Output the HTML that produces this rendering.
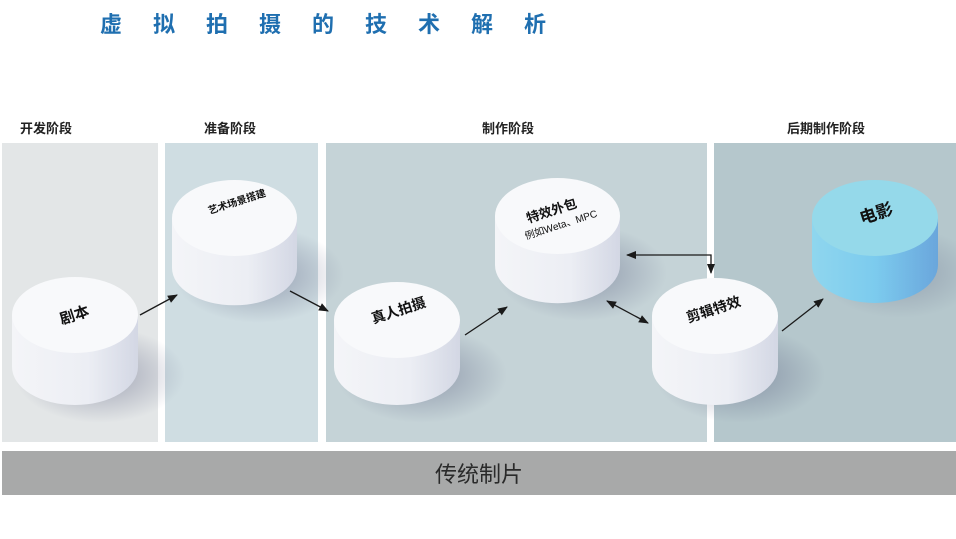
<!DOCTYPE html>
<html><head><meta charset="utf-8"><style>
body{margin:0;width:956px;height:534px;background:#fff;overflow:hidden;font-family:"Liberation Sans","Noto Sans CJK SC",sans-serif}
</style></head><body>
<svg width="956" height="534" viewBox="0 0 956 534" xmlns="http://www.w3.org/2000/svg" font-family="Liberation Sans, Noto Sans CJK SC, sans-serif">
<defs>
<linearGradient id="w" x1="0" x2="1"><stop offset="0" stop-color="#f4f5f8"/><stop offset="0.6" stop-color="#eceef4"/><stop offset="1" stop-color="#d3d7e4"/></linearGradient>
<linearGradient id="b" x1="0" x2="1"><stop offset="0" stop-color="#8fd6ee"/><stop offset="0.5" stop-color="#7ccbee"/><stop offset="1" stop-color="#6aa6dc"/></linearGradient>
<radialGradient id="sh"><stop offset="0" stop-color="#5a5f80" stop-opacity="0.5"/><stop offset="1" stop-color="#5a5f80" stop-opacity="0"/></radialGradient>
<marker id="a" markerWidth="10" markerHeight="10" refX="9" refY="5" orient="auto-start-reverse" markerUnits="userSpaceOnUse"><path d="M0,1 L10,5 L0,9 z" fill="#1a1a1a"/></marker>
</defs>
<text x="100" y="32" font-size="22" font-weight="bold" fill="#1f6fb0" letter-spacing="31">虚拟拍摄的技术解析</text>
<g font-size="13" font-weight="bold" fill="#222">
<text x="20" y="133">开发阶段</text><text x="204" y="133">准备阶段</text><text x="482" y="133">制作阶段</text><text x="787" y="133">后期制作阶段</text></g>
<rect x="2" y="143" width="156" height="299" fill="#e3e6e7"/>
<rect x="165" y="143" width="153" height="299" fill="#cfdde2"/>
<rect x="326" y="143" width="381" height="299" fill="#c5d3d7"/>
<rect x="714" y="143" width="242" height="299" fill="#b5c7cc"/>
<rect x="2" y="451" width="954" height="44" fill="#a8a9a9"/>
<text x="479" y="482" font-size="22" text-anchor="middle" fill="#2a2a2a">传统制片</text>
<g>
<ellipse cx="100" cy="375" rx="85" ry="48" fill="url(#sh)"/>
<ellipse cx="259" cy="275" rx="85" ry="48" fill="url(#sh)"/>
<ellipse cx="422" cy="375" rx="85" ry="48" fill="url(#sh)"/>
<ellipse cx="582" cy="273" rx="85" ry="48" fill="url(#sh)"/>
<ellipse cx="740" cy="375" rx="85" ry="48" fill="url(#sh)"/>
<ellipse cx="900" cy="273" rx="80" ry="45" fill="url(#sh)" opacity="0.7"/>
</g>
<g>
<path d="M12,315 v52 a63,38 0 0 0 126,0 v-52z" fill="url(#w)"/><ellipse cx="75" cy="315" rx="63" ry="38" fill="#f8f9fb"/>
<path d="M172,218 v50 a62,37 0 0 0 125,0 v-50z" fill="url(#w)"/><ellipse cx="234.5" cy="218" rx="62.5" ry="38" fill="#f8f9fb"/>
<path d="M334,320 v47 a63,38 0 0 0 126,0 v-47z" fill="url(#w)"/><ellipse cx="397" cy="320" rx="63" ry="38" fill="#f8f9fb"/>
<path d="M495,216 v49 a62,38 0 0 0 125,0 v-49z" fill="url(#w)"/><ellipse cx="557.5" cy="216" rx="62.5" ry="38" fill="#f8f9fb"/>
<path d="M652,316 v51 a63,38 0 0 0 126,0 v-51z" fill="url(#w)"/><ellipse cx="715" cy="316" rx="63" ry="38" fill="#f8f9fb"/>
<path d="M812,218 v47 a63,38 0 0 0 126,0 v-47z" fill="url(#b)"/><ellipse cx="875" cy="218" rx="63" ry="38" fill="#95d9ea"/>
</g>
<g fill="#111" font-weight="bold">
<text transform="translate(76,320) rotate(-18)" font-size="15" text-anchor="middle">剧本</text>
<text transform="translate(238,205) rotate(-18)" font-size="10" text-anchor="middle">艺术场景搭建</text>
<text transform="translate(400,315) rotate(-18)" font-size="14" text-anchor="middle">真人拍摄</text>
<text transform="translate(553,215) rotate(-18)" font-size="13" text-anchor="middle">特效外包</text>
<text transform="translate(562,228) rotate(-18)" font-size="10" font-weight="normal" text-anchor="middle">例如Weta、MPC</text>
<text transform="translate(715,314) rotate(-18)" font-size="14" text-anchor="middle">剪辑特效</text>
<text transform="translate(878,219) rotate(-18)" font-size="17" text-anchor="middle">电影</text>
</g>
<g stroke="#1a1a1a" stroke-width="1.3" fill="none">
<line x1="140" y1="315" x2="177" y2="295" marker-end="url(#a)"/>
<line x1="290" y1="291" x2="328" y2="311" marker-end="url(#a)"/>
<line x1="465" y1="335" x2="507" y2="307" marker-end="url(#a)"/>
<polyline points="627,255 711,255 711,273" marker-start="url(#a)" marker-end="url(#a)"/>
<line x1="607" y1="301" x2="648" y2="323" marker-start="url(#a)" marker-end="url(#a)"/>
<line x1="782" y1="331" x2="823" y2="299" marker-end="url(#a)"/>
</g>
</svg>
</body></html>
